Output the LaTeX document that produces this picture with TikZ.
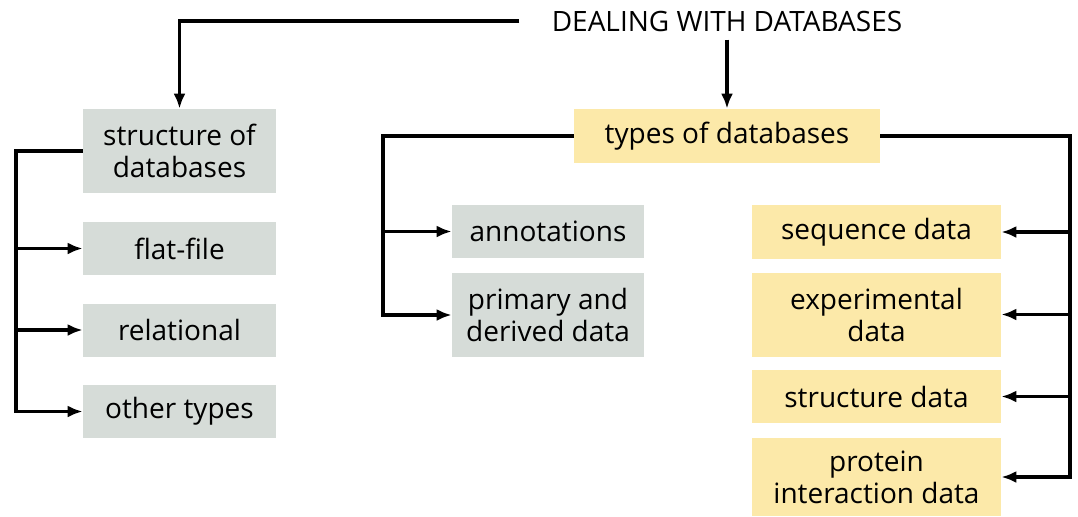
\documentclass[tikz,border=0pt]{standalone}
\usepackage{fontspec}
\setmainfont{Open Sans}
\usetikzlibrary{positioning,calc,arrows.meta}
\definecolor{boxgrey}{HTML}{D6DCD8}
\definecolor{boxsand}{HTML}{FCE9A9}

\tikzset{
  dbbox/.style={inner sep=0pt,align=center,font=\fontsize{14}{16}\selectfont},
  greybox/.style={dbbox,fill=boxgrey},
  sandbox/.style={dbbox,fill=boxsand},
  link/.style={line width=1.6pt,-{Latex[length=7.5pt,width=6pt]}}
}

\begin{document}
\begin{tikzpicture}[x=0.5pt,y=-0.5pt]
  \useasboundingbox (0,0) rectangle (1078,516);
  % heading
  \node[font=\fontsize{14}{16}\selectfont,inner xsep=16pt,inner ysep=4pt] (head) at (727,21) {DEALING WITH DATABASES};
  % left column: structure
  \node[greybox,minimum width=96.5pt,minimum height=42pt] (struct) at (179.5,151) {structure of\\databases};
  \node[greybox,minimum width=96.5pt,minimum height=26.5pt] (flat) at (179.5,248.5) {flat-file};
  \node[greybox,minimum width=96.5pt,minimum height=26.5pt] (relat) at (179.5,330) {relational};
  \node[greybox,minimum width=96.5pt,minimum height=26.5pt] (other) at (179.5,411.5) {other types};
  % middle: types
  \node[sandbox,minimum width=153pt,minimum height=27pt] (types) at (727,136) {types of databases};
  \node[greybox,minimum width=96pt,minimum height=26.5pt] (annot) at (548,231.5) {annotations};
  \node[greybox,minimum width=96pt,minimum height=42pt] (prim) at (548,315) {primary and\\derived data};
  % right column
  \node[sandbox,minimum width=124.5pt,minimum height=27pt] (seq) at (876.5,232) {sequence data};
  \node[sandbox,minimum width=124.5pt,minimum height=42pt] (expt) at (876.5,314.5) {experimental\\data};
  \node[sandbox,minimum width=124.5pt,minimum height=26.5pt] (strd) at (876.5,396.5) {structure data};
  \node[sandbox,minimum width=124.5pt,minimum height=39pt] (prot) at (876.5,477) {protein\\interaction data};

  \coordinate (ltrunk) at (16,411.5);
  \coordinate (mtrunk) at (383,315);
  \coordinate (rtrunk) at (1070,477);

  % connectors
  \draw[link] (head.west) -| (struct.north);
  \draw[link] (head.south) -- (types.north);
  \draw[link] (struct.west) -| (ltrunk) -- (other.west);
  \draw[link] (flat.west -| ltrunk) -- (flat.west);
  \draw[link] (relat.west -| ltrunk) -- (relat.west);
  \draw[link] (types.west) -| (mtrunk) -- (prim.west);
  \draw[link] (annot.west -| mtrunk) -- (annot.west);
  \draw[link] (types.east) -| (rtrunk) -- (prot.east);
  \draw[link] (seq.east -| rtrunk) -- (seq.east);
  \draw[link] (expt.east -| rtrunk) -- (expt.east);
  \draw[link] (strd.east -| rtrunk) -- (strd.east);
\end{tikzpicture}
\end{document}
